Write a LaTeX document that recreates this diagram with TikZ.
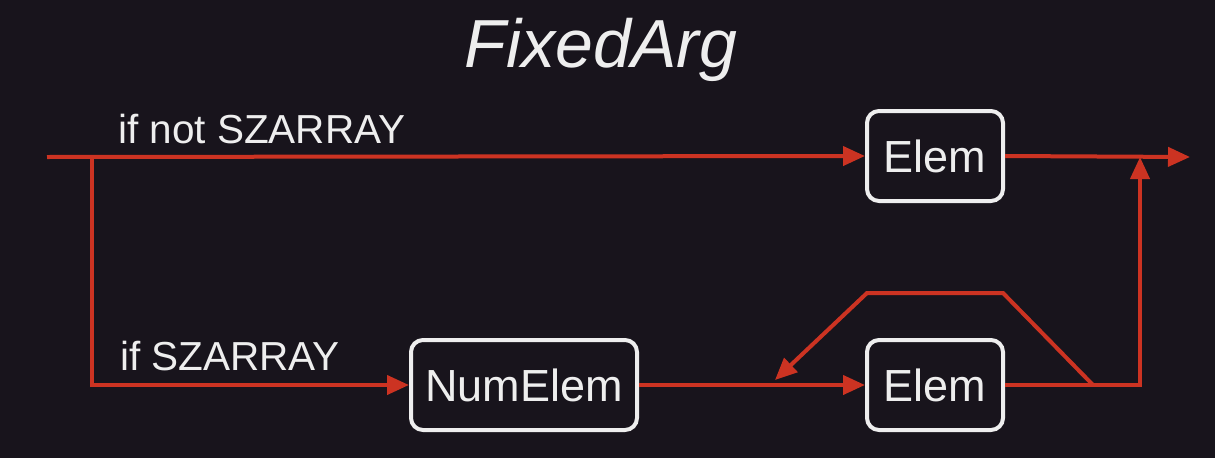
\documentclass[tikz,border=0pt]{standalone}
\usepackage{fontspec}
\setmainfont{Liberation Sans}
\usetikzlibrary{arrows.meta}
\definecolor{bgc}{HTML}{18141C}
\definecolor{linec}{HTML}{CC3322}
\definecolor{boxc}{HTML}{EEEEEE}
\definecolor{txtc}{HTML}{EEEEEE}
\tikzset{
  box/.style={draw=boxc, line width=4pt, fill=bgc, rounded corners=12pt, minimum height=90pt, inner sep=0pt, text=txtc, font=\fontsize{45}{54}\selectfont},
  wire/.style={draw=linec, line width=4pt},
  arr/.style={wire, -{Triangle[length=22pt,width=19pt]}},
  lbl/.style={text=txtc, font=\fontsize{40.5}{48}\selectfont, anchor=base west, inner sep=0pt},
}
\begin{document}
\begin{tikzpicture}[x=1pt,y=-1pt]
\fill[bgc] (0,0) rectangle (1215,458);
\useasboundingbox (0,0) rectangle (1215,458);

\node[text=txtc, font=\fontsize{68}{80}\selectfont\itshape, anchor=base, inner sep=0pt] (title) at (601,67) {FixedArg};

\node[box, minimum width=136pt] (elemT) at (935,156) {Elem};
\node[box, minimum width=226pt] (num) at (524,385) {NumElem};
\node[box, minimum width=136pt] (elemB) at (935,385) {Elem};

\coordinate (start) at (47,157);
\coordinate (branch) at (92,157);
\coordinate (corner) at (92,385);
\coordinate (join) at (1140,157);
\coordinate (finish) at (1190,157);
\coordinate (rcorner) at (1140,385);
\coordinate (lstart) at (1093,385);
\coordinate (ltr) at (1003,293);
\coordinate (ltl) at (867,293);
\coordinate (lend) at (775,380);

\draw[arr] (start) -- (elemT.west);
\draw[arr] (branch) -- (corner) -- (num.west);
\draw[arr] (num.east) -- (elemB.west);
\draw[arr] (elemT.east) -- (finish);
\draw[arr] (elemB.east) -- (rcorner) -- (join);
\draw[arr] (lstart) -- (ltr) -- (ltl) -- (lend);

\node[lbl] (l1) at (118,143) {if not SZARRAY};
\node[lbl] (l2) at (120,370) {if SZARRAY};
\end{tikzpicture}
\end{document}
